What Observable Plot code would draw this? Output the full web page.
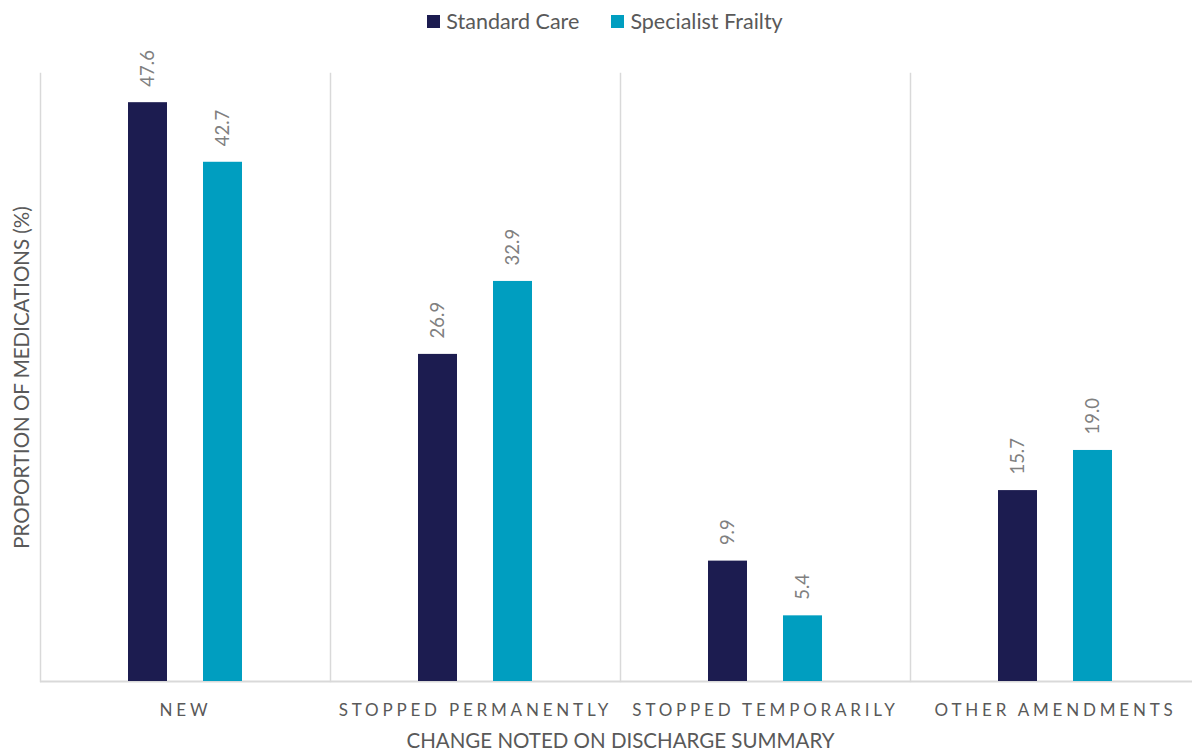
<!DOCTYPE html>
<html><head><meta charset="utf-8">
<script src="https://cdn.jsdelivr.net/npm/d3@7"></script>
<script src="https://cdn.jsdelivr.net/npm/@observablehq/plot@0.6"></script>
<style>
body{margin:0;background:#fff;font-family:Lato,"Open Sans",sans-serif;width:1192px;height:753px;overflow:hidden}
#legend{height:42px;display:flex;justify-content:center;align-items:center;gap:32px;font-size:21.5px;color:#595959;padding-left:18px;box-sizing:border-box}
#legend span.sw{display:inline-block;width:13px;height:13px;margin-right:6px;vertical-align:middle;position:relative;top:-2px}
#chart svg{font-family:Lato,"Open Sans",sans-serif;color:#595959;overflow:visible}
[aria-label="fx-axis tick label"]{letter-spacing:3.8px;font-size:17px}
[aria-label="fx-axis label"]{font-size:20.5px;letter-spacing:0}
[aria-label="y-axis label"]{font-size:20.5px}
</style></head>
<body>
<div id="legend"></div>
<div id="chart"></div>
<script>
const categories = ["NEW", "STOPPED PERMANENTLY", "STOPPED TEMPORARILY", "OTHER AMENDMENTS"];
const series = ["Standard Care", "Specialist Frailty"];
const standardCare = [47.6, 26.9, 9.9, 15.7];
const specialistFrailty = [42.7, 32.9, 5.4, 19.0];
const colors = ["#1c1c50", "#009ec0"];

const data = [];
categories.forEach((c, i) => {
  data.push({category: c, series: series[0], value: standardCare[i]});
  data.push({category: c, series: series[1], value: specialistFrailty[i]});
});

const legend = document.getElementById("legend");
series.forEach((s, i) => {
  const item = document.createElement("div");
  item.innerHTML = `<span class="sw" style="background:${colors[i]}"></span>${s}`;
  legend.appendChild(item);
});

const chart = Plot.plot({
  width: 1192,
  height: 711,
  marginLeft: 40,
  marginRight: -8,
  marginTop: 31,
  marginBottom: 72,
  fx: {domain: categories, padding: 0},
  x: {domain: series, paddingInner: 0.48, paddingOuter: 1.173, axis: null},
  y: {domain: [0, 50], axis: null},
  color: {domain: series, range: colors},
  marks: [
    Plot.frame({anchor: "left", stroke: "#d9d9d9", strokeWidth: 1.5}),
    Plot.ruleY([0], {stroke: "#d9d9d9", strokeWidth: 2}),
    Plot.barY(data, {fx: "category", x: "series", y: "value", fill: "series"}),
    Plot.text(data, {fx: "category", x: "series", y: "value", text: d => d.value.toFixed(1),
      rotate: -90, textAnchor: "start", dy: -16, fill: "#808080", fontSize: 18.5}),
    Plot.axisFx({anchor: "bottom", tickSize: 0, tickPadding: 22, fontSize: 17,
      label: "CHANGE NOTED ON DISCHARGE SUMMARY", labelAnchor: "center", labelOffset: 66}),
    Plot.axisY({ticks: [], label: "PROPORTION OF MEDICATIONS (%)", labelAnchor: "center", labelArrow: "none", labelOffset: 26, tickSize: 0})
  ]
});
document.getElementById("chart").appendChild(chart);
</script>
</body></html>
